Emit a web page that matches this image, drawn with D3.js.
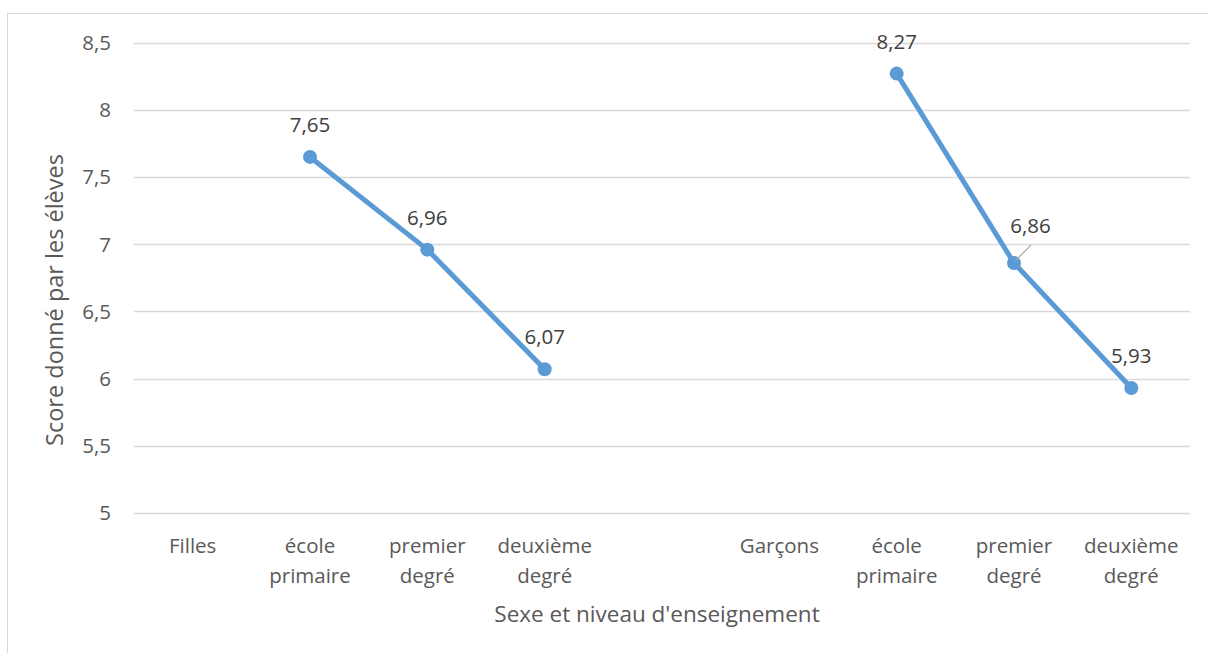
<!DOCTYPE html>
<html>
<head>
<meta charset="utf-8">
<script src="https://cdn.jsdelivr.net/npm/d3@7"></script>
<style>
  html, body { margin: 0; padding: 0; background: #fff; }
  svg { display: block; font-family: "Open Sans", "Noto Sans", sans-serif; }
</style>
</head>
<body>
<svg id="chart" width="1208" height="653"></svg>
<script>
// Category labels (multi-line labels split on "\n")
const categories = [
  "Filles", "école\nprimaire", "premier\ndegré", "deuxième\ndegré", "",
  "Garçons", "école\nprimaire", "premier\ndegré", "deuxième\ndegré"
];
// Scores, null where the series has no value (gap in the line)
const scores = [null, 7.65, 6.96, 6.07, null, null, 8.27, 6.86, 5.93];
const yTicks = [5, 5.5, 6, 6.5, 7, 7.5, 8, 8.5];
const yTitle = "Score donné par les élèves";
const xTitle = "Sexe et niveau d'enseignement";

(function draw() {
  const svg = d3.select("#chart");
  const plotLeft = 134, plotRight = 1190, plotTop = 42.7, plotBottom = 513;
  const textColor = "#595959";
  const lineColor = "#5b9bd5";
  const labelSize = 20.5;

  // Chart frame
  svg.append("rect")
    .attr("x", 7.5).attr("y", 13.5)
    .attr("width", 1300).attr("height", 800)
    .attr("fill", "none").attr("stroke", "#d9d9d9").attr("stroke-width", 1);

  const x = d3.scaleBand().domain(d3.range(categories.length)).range([plotLeft, plotRight]);
  const y = d3.scaleLinear().domain([5, 8.5]).range([plotBottom, plotTop]);

  // Horizontal gridlines
  svg.append("g").selectAll("line").data(yTicks).join("line")
    .attr("x1", plotLeft).attr("x2", plotRight)
    .attr("y1", d => Math.round(y(d)) + 0.5).attr("y2", d => Math.round(y(d)) + 0.5)
    .attr("stroke", "#d9d9d9").attr("stroke-width", 1.3);

  // Y axis tick labels
  const fmt = v => String(v).replace(".", ",");
  svg.append("g").selectAll("text").data(yTicks).join("text")
    .attr("x", 111).attr("y", d => y(d))
    .attr("dy", "0.36em").attr("text-anchor", "end")
    .attr("fill", textColor).attr("font-size", labelSize)
    .text(d => fmt(d));

  // X axis category labels
  const cx = i => x(i) + x.bandwidth() / 2;
  const catG = svg.append("g");
  categories.forEach((c, i) => {
    const t = catG.append("text")
      .attr("x", cx(i)).attr("y", 553)
      .attr("text-anchor", "middle")
      .attr("fill", textColor).attr("font-size", labelSize);
    c.split("\n").forEach((line, k) => {
      t.append("tspan").attr("x", cx(i)).attr("dy", k === 0 ? 0 : 30).text(line);
    });
  });

  // Axis titles
  svg.append("text")
    .attr("x", 657).attr("y", 622)
    .attr("text-anchor", "middle")
    .attr("fill", textColor).attr("font-size", 22.5)
    .text(xTitle);
  svg.append("text")
    .attr("transform", "translate(63, 300) rotate(-90)")
    .attr("text-anchor", "middle")
    .attr("fill", textColor).attr("font-size", 23.5)
    .text(yTitle);

  // Series line with gaps
  const pts = scores.map((v, i) => ({ i, v }));
  const line = d3.line()
    .defined(d => d.v !== null)
    .x(d => cx(d.i)).y(d => y(d.v));
  svg.append("path")
    .datum(pts)
    .attr("d", line)
    .attr("fill", "none").attr("stroke", lineColor)
    .attr("stroke-width", 5).attr("stroke-linejoin", "round");

  const valid = pts.filter(d => d.v !== null);
  svg.append("g").selectAll("circle").data(valid).join("circle")
    .attr("cx", d => cx(d.i)).attr("cy", d => y(d.v))
    .attr("r", 7).attr("fill", lineColor);

  // Data labels (the 6,86 label is offset with a leader line)
  const labelDx = { 7: 16.5 };
  valid.forEach(d => {
    const px = cx(d.i), py = y(d.v);
    const dx = labelDx[d.i] || 0;
    if (dx) {
      svg.append("line")
        .attr("x1", px + 1).attr("y1", py - 2)
        .attr("x2", px + 17).attr("y2", py - 18)
        .attr("stroke", "#a6a6a6").attr("stroke-width", 1.2);
    }
    svg.append("text")
      .attr("x", px + dx).attr("y", dx ? py - 30 : py - 25)
      .attr("text-anchor", "middle")
      .attr("fill", "#404040").attr("font-size", labelSize)
      .text(d.v.toFixed(2).replace(".", ","));
  });
})();
</script>
</body>
</html>
